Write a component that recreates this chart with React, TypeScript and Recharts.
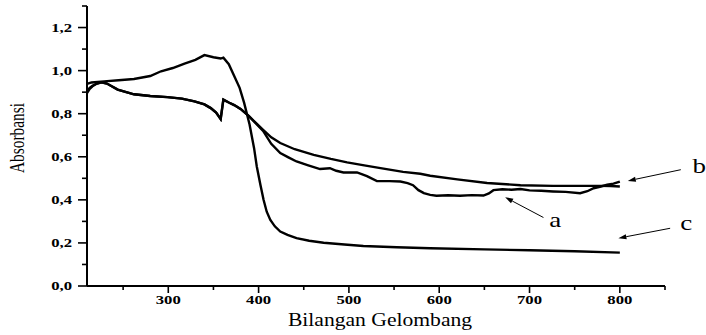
import React from 'react';
import { LineChart, Line, XAxis, YAxis, ReferenceLine, ReferenceDot } from 'recharts';

const SERIF = '"Liberation Serif", "Times New Roman", serif';

// axis ticks: majors carry a label, minors are just short marks
const xTicks = [250, 300, 350, 400, 450, 500, 550, 600, 650, 700, 750, 800, 850];
const yTicks = [0, 0.1, 0.2, 0.3, 0.4, 0.5, 0.6, 0.7, 0.8, 0.9, 1.0, 1.1, 1.2, 1.3];

// sample a
const aWave = [210, 213, 216, 221, 226, 232, 244, 262, 280, 299, 315, 329, 340, 347, 353, 358, 361, 367, 373, 380, 389, 397,
    405, 414, 424, 433, 442, 455, 468, 479, 486, 494, 509, 520, 531, 545, 557, 565, 571, 577, 583, 590, 597, 610, 623, 636,
    649, 655, 660, 670, 680, 690, 700, 713, 726, 740, 756, 764, 771, 779, 786, 793, 800];
const aAbs = [0.895, 0.915, 0.927, 0.94, 0.946, 0.94, 0.912, 0.89, 0.882, 0.877, 0.87, 0.857, 0.843, 0.826, 0.805, 0.775, 0.865, 0.852, 0.84, 0.822, 0.79, 0.755,
    0.72, 0.66, 0.617, 0.597, 0.578, 0.56, 0.543, 0.547, 0.535, 0.527, 0.527, 0.51, 0.487, 0.487, 0.485, 0.478, 0.468, 0.445, 0.431, 0.423, 0.419, 0.421, 0.419, 0.422,
    0.42, 0.43, 0.445, 0.449, 0.447, 0.45, 0.444, 0.442, 0.439, 0.437, 0.431, 0.44, 0.454, 0.462, 0.47, 0.475, 0.485];

// sample b
const bWave = [210, 213, 216, 221, 226, 232, 244, 262, 280, 299, 315, 329, 340, 347, 353, 358, 361, 367, 373, 380, 389, 397,
    405, 414, 424, 440, 461, 480, 498, 517, 535, 560, 579, 590, 620, 653, 690, 726, 778, 790, 800];
const bAbs = [0.905, 0.92, 0.93, 0.94, 0.946, 0.94, 0.912, 0.89, 0.882, 0.877, 0.87, 0.857, 0.843, 0.826, 0.805, 0.775, 0.865, 0.852, 0.84, 0.822, 0.79, 0.757,
    0.725, 0.69, 0.664, 0.635, 0.609, 0.59, 0.574, 0.56, 0.547, 0.53, 0.521, 0.512, 0.495, 0.478, 0.468, 0.465, 0.465, 0.464, 0.462];

// sample c
const cWave = [210, 215, 229, 245, 262, 280, 292, 305, 318, 330, 340, 350, 358, 361, 367, 373, 379, 384, 390, 395, 398, 402,
    405.5, 409, 413, 418, 424, 432, 442, 456, 472, 495, 516, 553, 590, 650, 700, 750, 800];
const cAbs = [0.938, 0.945, 0.95, 0.955, 0.961, 0.975, 0.997, 1.012, 1.033, 1.05, 1.072, 1.062, 1.056, 1.06, 1.03, 0.975, 0.92, 0.85, 0.75, 0.64, 0.555, 0.47,
    0.40, 0.345, 0.307, 0.277, 0.253, 0.237, 0.222, 0.21, 0.201, 0.193, 0.186, 0.18, 0.175, 0.17, 0.166, 0.161, 0.155];

// curve labels with their pointer arrows (tail -> tip), in axis units
const tags = [
    { text: 'a', at: [728.4, 0.276], tail: [715.4, 0.318], tip: [673, 0.412] },
    { text: 'b', at: [887.8, 0.526], tail: [867.5, 0.54], tip: [808.8, 0.488] },
    { text: 'c', at: [873.4, 0.26], tail: [855.7, 0.268], tip: [798.4, 0.222] },
];

const toPoints = (xs: number[], ys: number[]) => xs.map((x, i) => ({ x, y: ys[i] }));

const seriesA = toPoints(aWave, aAbs);
const seriesB = toPoints(bWave, bAbs);
const seriesC = toPoints(cWave, cAbs);

const XTick = ({ x, y, payload }: any) => {
    const major = payload.value % 100 === 0;
    return (
        <g>
            <line x1={x} y1={y} x2={x} y2={y + (major ? 7 : 4)} stroke="#000" strokeWidth={1.6} />
            {major && (
                <text transform={`translate(${x},${y + 18}) scale(1.45,1)`} textAnchor="middle"
                    fontFamily={SERIF} fontWeight="bold" fontSize={11.5} fill="#000">
                    {payload.value}
                </text>
            )}
        </g>
    );
};

const YTick = ({ x, y, payload }: any) => {
    const major = Math.round(payload.value * 10) % 2 === 0;
    return (
        <g>
            <line x1={x} y1={y} x2={x - (major ? 9 : 5)} y2={y} stroke="#000" strokeWidth={1.6} />
            {major && (
                <text transform={`translate(${x - 15},${y + 4}) scale(1.45,1)`} textAnchor="end"
                    fontFamily={SERIF} fontWeight="bold" fontSize={11.5} fill="#000">
                    {payload.value.toFixed(1).replace('.', ',')}
                </text>
            )}
        </g>
    );
};

const Arrow = (props: any) => {
    const { x1, y1, x2, y2 } = props;
    const ang = Math.atan2(y2 - y1, x2 - x1);
    const len = 8;
    const half = 2.6;
    const bx = x2 - len * Math.cos(ang);
    const by = y2 - len * Math.sin(ang);
    const pts = `${x2},${y2} ${bx - half * Math.sin(ang)},${by + half * Math.cos(ang)} ${bx + half * Math.sin(ang)},${by - half * Math.cos(ang)}`;
    return (
        <g>
            <line x1={x1} y1={y1} x2={bx} y2={by} stroke="#000" strokeWidth={1} />
            <polygon points={pts} fill="#000" />
        </g>
    );
};

const YTitle = () => (
    <text transform="translate(23.5,138) rotate(-90) scale(0.7,1)" textAnchor="middle"
        fontFamily={SERIF} fontSize={22} fill="#000">
        Absorbansi
    </text>
);

const XTitle = () => (
    <text transform="translate(380,326) scale(1.2,1)" textAnchor="middle"
        fontFamily={SERIF} fontSize={18} fill="#000">
        Bilangan Gelombang
    </text>
);

export default function App() {
    return (
        <div style={{ position: 'absolute', left: 0, top: 0 }}>
            <LineChart width={706} height={335} margin={{ top: 6, right: 41, left: 0, bottom: 0 }}>
                <XAxis
                    type="number"
                    dataKey="x"
                    domain={[210, 850]}
                    ticks={xTicks}
                    interval={0}
                    height={49}
                    tickSize={0}
                    tickMargin={0}
                    tickLine={false}
                    tick={<XTick />}
                    axisLine={{ stroke: '#000', strokeWidth: 2 }}
                    label={<XTitle />}
                />
                <YAxis
                    type="number"
                    domain={[0, 1.3]}
                    ticks={yTicks}
                    interval={0}
                    width={87}
                    tickSize={0}
                    tickMargin={0}
                    tickLine={false}
                    tick={<YTick />}
                    axisLine={{ stroke: '#000', strokeWidth: 2 }}
                    label={<YTitle />}
                />
                <Line data={seriesA} dataKey="y" type="linear" stroke="#000" strokeWidth={2.4} dot={false} isAnimationActive={false} />
                <Line data={seriesB} dataKey="y" type="linear" stroke="#000" strokeWidth={2.4} dot={false} isAnimationActive={false} />
                <Line data={seriesC} dataKey="y" type="linear" stroke="#000" strokeWidth={2.4} dot={false} isAnimationActive={false} />
                {tags.map((t) => (
                    <ReferenceLine
                        key={`arrow-${t.text}`}
                        segment={[{ x: t.tail[0], y: t.tail[1] }, { x: t.tip[0], y: t.tip[1] }]}
                        ifOverflow="visible"
                        shape={Arrow}
                    />
                ))}
                {tags.map((t) => (
                    <ReferenceDot
                        key={`tag-${t.text}`}
                        x={t.at[0]}
                        y={t.at[1]}
                        r={1}
                        ifOverflow="visible"
                        shape={(p: any) => (
                            <text transform={`translate(${p.cx},${p.cy}) scale(1.35,1)`} textAnchor="middle"
                                fontFamily={SERIF} fontSize={20} fill="#000">
                                {t.text}
                            </text>
                        )}
                    />
                ))}
            </LineChart>
        </div>
    );
}
